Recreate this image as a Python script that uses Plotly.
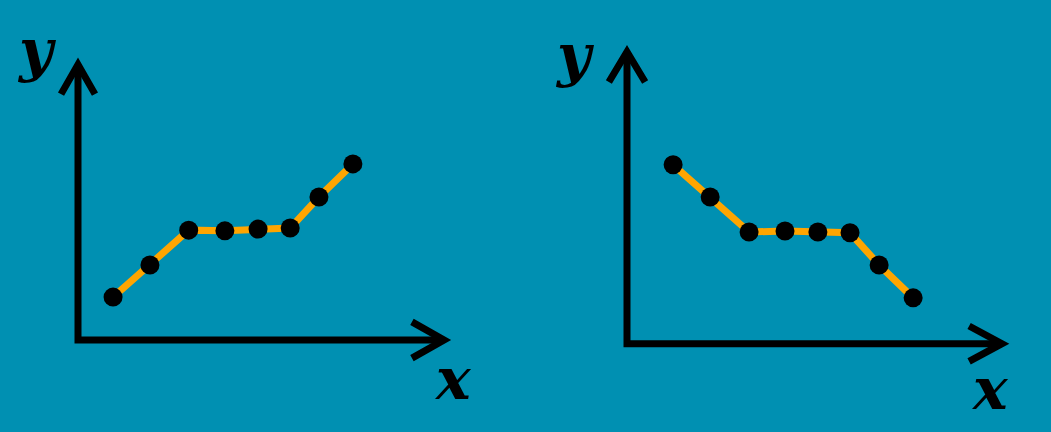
import plotly.graph_objects as go

# ---- data ----
left_x = [0.95, 1.95, 3.0, 3.98, 4.88, 5.75, 6.53, 7.45]
left_y = [1.23, 2.15, 3.15, 3.13, 3.18, 3.21, 4.10, 5.05]
right_x = [1.22, 2.20, 3.23, 4.18, 5.05, 5.90, 6.67, 7.57]
right_y = [4.84, 3.97, 3.02, 3.05, 3.02, 3.00, 2.13, 1.24]
axis_labels = ["x", "y"]

BG = "#0090B2"
ORANGE = "#FFA500"
W, H = 1051, 432

fig = go.Figure()
for xs, ys, xa, ya in [(left_x, left_y, "x", "y"), (right_x, right_y, "x2", "y2")]:
    fig.add_trace(go.Scatter(x=xs, y=ys, mode="lines+markers",
                             line=dict(color=ORANGE, width=7),
                             marker=dict(color="black", size=19),
                             xaxis=xa, yaxis=ya, hoverinfo="skip", cliponaxis=False))

def panel(ox, oy, tipx, tipy, lo=-1.0, hi_x=11.0, hi_y=9.0, xmax=10.0, ymax=8.0):
    """Axis domains so that data (0,0) sits at pixel (ox, oy) and (xmax, ymax) at (tipx, tipy)."""
    ux = (tipx - ox) / xmax
    uy = (oy - tipy) / ymax
    xd = [(ox + lo * ux) / W, (ox + hi_x * ux) / W]
    yd = [1 - (oy - lo * uy) / H, 1 - (oy - hi_y * uy) / H]
    return xd, yd, [lo, hi_x], [lo, hi_y]

def hidden(**kw):
    d = dict(visible=False, showgrid=False, zeroline=False, fixedrange=True)
    d.update(kw)
    return d

lxd, lyd, lxr, lyr = panel(78, 340, 447, 61)
rxd, ryd, rxr, ryr = panel(627, 343.7, 1005, 48)

shapes = []
def arrows(xr, yr, xmax, ymax, wx, wy, vx, vy):
    shapes.append(dict(type="path", xref=xr, yref=yr,
                       path=f"M 0,{ymax} L 0,0 L {xmax},0",
                       line=dict(color="black", width=7)))
    shapes.append(dict(type="path", xref=xr, yref=yr,
                       path=f"M {wx},{wy} L {xmax},0 L {wx},{-wy}",
                       line=dict(color="black", width=7)))
    shapes.append(dict(type="path", xref=xr, yref=yr,
                       path=f"M {-vx},{vy} L 0,{ymax} L {vx},{vy}",
                       line=dict(color="black", width=7)))

arrows("x", "y", 9.92, 7.9, 9.05, 0.52, 0.46, 7.05)
arrows("x2", "y2", 9.92, 7.9, 9.05, 0.48, 0.48, 7.08)

lab_font = dict(family="DejaVu Serif", size=58, color="black", weight="bold", style="italic")
label_pos = [(axis_labels[1], 37, 50), (axis_labels[0], 453, 379),
             (axis_labels[1], 575, 55), (axis_labels[0], 990, 389)]
annotations = [dict(text=t, x=px / W, y=1 - py / H, xref="paper", yref="paper",
                    showarrow=False, font=lab_font, xanchor="center", yanchor="middle")
               for t, px, py in label_pos]

fig.update_layout(
    width=W, height=H,
    margin=dict(l=0, r=0, t=0, b=0),
    paper_bgcolor=BG, plot_bgcolor="rgba(0,0,0,0)",
    showlegend=False,
    xaxis=hidden(domain=lxd, range=lxr, anchor="y"),
    yaxis=hidden(domain=lyd, range=lyr, anchor="x"),
    xaxis2=hidden(domain=rxd, range=rxr, anchor="y2"),
    yaxis2=hidden(domain=ryd, range=ryr, anchor="x2"),
    shapes=shapes,
    annotations=annotations,
)

fig.write_html("out.html", config={"displayModeBar": False, "staticPlot": True},
               post_script="document.body.style.margin='0';document.body.style.background='%s';" % BG)
